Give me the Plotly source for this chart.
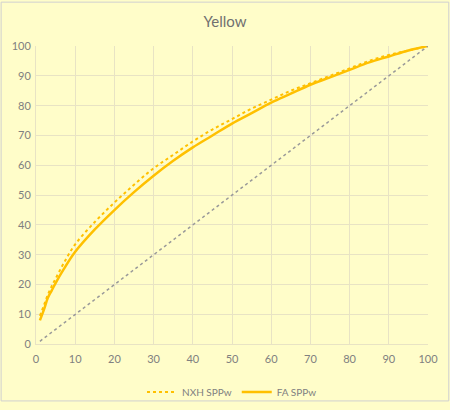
import plotly.graph_objects as go

x_vals = [1, 2, 3, 4, 5, 7, 10, 15, 20, 25, 30, 35, 40, 45, 50, 55, 60, 65, 70, 75, 80, 85, 90, 95, 100]
fa_sppw = [8, 11.5, 15.5, 18, 20.5, 25, 31, 38.5, 45, 51, 56.5, 61.5, 66, 70, 74, 77.5, 81, 84, 87, 89.5, 92, 94.5, 96.5, 98.5, 100]
nxh_sppw = [9.5, 13, 16.5, 19.5, 22, 27, 33.5, 41, 47.5, 53.5, 59, 63.5, 68, 72, 75.5, 79, 82, 85, 87.5, 90, 92.5, 95, 97, 98.5, 100]
diag_x = [1, 100]
diag_y = [1, 100]

gold = "#FFC000"
grid = "#E8E3C4"
text_col = "#808080"

fig = go.Figure()
fig.add_trace(go.Scatter(x=x_vals, y=nxh_sppw, name="NXH SPPw", mode="lines",
                         line=dict(color=gold, width=2, dash="dot", shape="spline")))
fig.add_trace(go.Scatter(x=x_vals, y=fa_sppw, name="FA SPPw", mode="lines",
                         line=dict(color=gold, width=2.5, shape="spline")))
fig.add_trace(go.Scatter(x=diag_x, y=diag_y, mode="lines", showlegend=False,
                         line=dict(color="#999999", width=1.5, dash="dot")))

fig.update_layout(
    width=450, height=410, autosize=False,
    paper_bgcolor="#FFFDC9", plot_bgcolor="#FFFDC9",
    font=dict(family="Lato, sans-serif", color=text_col, size=11),
    title=dict(text="Yellow", x=0.5, xanchor="center", y=0.948, yanchor="middle",
               font=dict(size=15, color="#707070")),
    margin=dict(l=36, r=22, t=46, b=59),
    legend=dict(orientation="h", x=0.5, xanchor="center", yref="container", y=0.044, yanchor="middle",
                font=dict(size=10, color=text_col), bgcolor="rgba(0,0,0,0)"),
    shapes=[dict(type="rect", xref="paper", yref="paper", x0=-0.089, y0=-0.19, x1=1.053, y1=1.147,
                 line=dict(color="#D0D0D0", width=1))],
)
fig.update_xaxes(range=[0, 100], dtick=10, showgrid=True, gridcolor=grid, gridwidth=1,
                 zeroline=False, showline=True, linecolor=grid, ticks="", ticklabelstandoff=5)
fig.update_yaxes(range=[0, 100], dtick=10, showgrid=True, gridcolor=grid, gridwidth=1,
                 zeroline=False, showline=True, linecolor=grid, ticks="", ticklabelstandoff=2)

# page body has a default 8px margin, drop it so the figure sits at the corner
fig.write_html("out.html", config={"displayModeBar": False, "responsive": False},
               post_script="document.body.style.margin='0';")
